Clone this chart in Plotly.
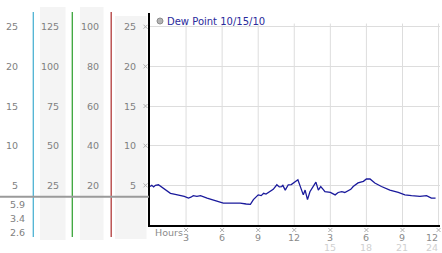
import plotly.graph_objects as go

# ---- data ----
hours = [0.0, 0.15, 0.3, 0.45, 0.7, 1.1, 1.4, 1.7, 2.0, 2.4,
         2.85, 3.2, 3.4, 3.6, 3.9, 4.2, 4.45, 4.75, 5.15, 5.6,
         6.1, 6.7, 7.5, 8.0, 8.35, 8.6, 9.0, 9.25, 9.45, 9.65,
         10.0, 10.25, 10.55, 10.75, 10.95, 11.05, 11.25, 11.5, 11.75, 11.95,
         12.15, 12.3, 12.55, 12.75, 12.9, 13.1, 13.3, 13.6, 13.8, 14.0,
         14.2, 14.4, 14.55, 15.0, 15.4, 15.65, 15.95, 16.2, 16.5, 16.7,
         16.9, 17.3, 17.75, 18.0, 18.3, 18.7, 19.25, 19.95, 20.65, 21.2,
         21.75, 22.45, 23.0, 23.4, 23.75]
dew_point = [4.85, 5.0, 4.8, 5.0, 5.07, 4.6, 4.3, 4.0, 3.9, 3.8,
             3.6, 3.4, 3.5, 3.7, 3.6, 3.7, 3.6, 3.4, 3.2, 3.0,
             2.75, 2.75, 2.75, 2.65, 2.6, 3.2, 3.8, 3.7, 4.0, 3.9,
             4.3, 4.5, 5.07, 4.8, 4.85, 5.0, 4.4, 5.07, 5.1, 5.3,
             5.5, 5.7, 4.65, 3.8, 4.4, 3.2, 4.2, 4.85, 5.4, 4.4,
             4.85, 4.5, 4.2, 4.1, 3.8, 4.1, 4.2, 4.1, 4.4, 4.5,
             4.85, 5.3, 5.5, 5.8, 5.8, 5.3, 4.85, 4.4, 4.1, 3.8,
             3.7, 3.6, 3.7, 3.4, 3.4]

x_ticks = [3, 6, 9, 12, 15, 18, 21, 24]
x_tick_labels = ["3", "6", "9", "12", "3", "6", "9", "12"]
x_tick_labels_24 = ["", "", "", "", "15", "18", "21", "24"]

y_ticks = [25, 20, 15, 10, 5]
col1_labels = ["25", "20", "15", "10", "5"]
col2_labels = ["125", "100", "75", "50", "25"]
col3_labels = ["100", "80", "60", "40", "20"]
col4_labels = ["25", "20", "15", "10", "5"]
stat_labels = ["5.9", "3.4", "2.6"]

legend_text = "Dew Point 10/15/10"

# ---- geometry helpers (pixels -> paper) ----
W, H = 442, 253
ML, MR, MT, MB = 150, 2, 13, 28
PW, PH = W - ML - MR, H - MT - MB
X_MAX = 24.12
Y_MAX = 26.73


def xp(px):
    return (px - ML) / PW


def yp(py):
    return (H - MB - py) / PH


FONT = "DejaVu Sans"
LABEL_GRAY = "#808080"

fig = go.Figure()
fig.add_trace(go.Scatter(x=hours, y=dew_point, mode="lines",
                         line=dict(color="#1a1a9c", width=1.3),
                         hoverinfo="skip", showlegend=False))

shapes = []
annotations = []

# left panel backgrounds
for x0, x1, y0, y1 in [(40, 65.5, 7, 240), (80, 103.5, 7, 240), (115, 146.5, 16, 239)]:
    shapes.append(dict(type="rect", xref="paper", yref="paper",
                       x0=xp(x0), x1=xp(x1), y0=yp(y1), y1=yp(y0),
                       fillcolor="#f4f4f4", line=dict(width=0), layer="below"))

# vertical coloured lines
for x, c in [(33.3, "#4db3d3"), (72.3, "#3aa53a"), (111.2, "#b23a3a")]:
    shapes.append(dict(type="line", xref="paper", yref="paper",
                       x0=xp(x), x1=xp(x), y0=yp(237), y1=yp(12),
                       line=dict(color=c, width=1.3)))

# horizontal gray separator
shapes.append(dict(type="line", xref="paper", yref="paper",
                   x0=xp(0), x1=xp(149), y0=yp(196.7), y1=yp(196.7),
                   line=dict(color="#9a9a9a", width=2)))

# vertical grid lines (stop a little above the top grid line)
for t in x_ticks:
    shapes.append(dict(type="line", xref="x", yref="y",
                       x0=t, x1=t, y0=0, y1=25.4,
                       line=dict(color="#dddddd", width=1), layer="below"))


def tick_mark(cx, cy):
    s = 2
    return dict(type="path", xref="paper", yref="paper",
                path=f"M {xp(cx - s)} {yp(cy - s)} L {xp(cx + s)} {yp(cy + s)} "
                     f"M {xp(cx - s)} {yp(cy + s)} L {xp(cx + s)} {yp(cy - s)}",
                line=dict(color="#b0b0b0", width=1))


# y tick markers
for v in y_ticks:
    py = H - MB - v * PH / Y_MAX
    shapes.append(tick_mark(145.5, py))

# x tick markers
for t in x_ticks:
    px = ML + t * PW / X_MAX
    shapes.append(tick_mark(px, 230))

# left panel labels
for labels, xr in [(col1_labels, 20), (col2_labels, 60.5), (col3_labels, 100.5), (col4_labels, 138)]:
    for v, lab in zip(y_ticks, labels):
        annotations.append(dict(text=lab, xref="paper", yref="y", x=xp(xr), y=v,
                                xanchor="right", yanchor="middle", showarrow=False,
                                font=dict(family=FONT, size=9.5, color=LABEL_GRAY)))

for py, lab in zip([204, 218.7, 232.7], stat_labels):
    annotations.append(dict(text=lab, xref="paper", yref="paper", x=xp(27), y=yp(py),
                            xanchor="right", yanchor="middle", showarrow=False,
                            font=dict(family=FONT, size=9.5, color=LABEL_GRAY)))

# x tick labels
for t, lab, lab2 in zip(x_ticks, x_tick_labels, x_tick_labels_24):
    anchor = "right" if t == x_ticks[-1] else "center"
    xx = X_MAX if t == x_ticks[-1] else t
    annotations.append(dict(text=lab, xref="x", yref="paper", x=xx, y=yp(237.5),
                            xanchor=anchor, yanchor="middle", showarrow=False,
                            font=dict(family=FONT, size=9.5, color="#8a8a8a")))
    if lab2:
        annotations.append(dict(text=lab2, xref="x", yref="paper", x=xx, y=yp(247.5),
                                xanchor=anchor, yanchor="middle", showarrow=False,
                                font=dict(family=FONT, size=9.5, color="#d0d0d0")))

annotations.append(dict(text="Hours", xref="paper", yref="paper", x=xp(152.5), y=yp(232),
                        xanchor="left", yanchor="middle", showarrow=False,
                        font=dict(family=FONT, size=9.5, color="#8a8a8a")))

# legend
shapes.append(dict(type="circle", xref="paper", yref="paper",
                   x0=xp(157), x1=xp(163), y0=yp(24), y1=yp(18),
                   fillcolor="#b4b4b4", line=dict(color="#8c8c8c", width=1)))
annotations.append(dict(text=legend_text, xref="paper", yref="paper", x=xp(165), y=yp(21),
                        xanchor="left", yanchor="middle", showarrow=False,
                        font=dict(family=FONT, size=10, color="#2a2a9c")))

fig.update_layout(
    width=W, height=H,
    margin=dict(l=ML, r=MR, t=MT, b=MB, pad=0),
    paper_bgcolor="white", plot_bgcolor="white",
    shapes=shapes, annotations=annotations,
    xaxis=dict(range=[0, X_MAX], showgrid=False, zeroline=False,
               showticklabels=False, ticks="",
               showline=True, linecolor="black", linewidth=1.5),
    yaxis=dict(range=[0, Y_MAX], tickvals=y_ticks, showgrid=True,
               gridcolor="#dddddd", gridwidth=1, zeroline=False,
               showticklabels=False, ticks="",
               showline=True, linecolor="black", linewidth=1.5),
    showlegend=False,
)

fig.write_html("out.html")
